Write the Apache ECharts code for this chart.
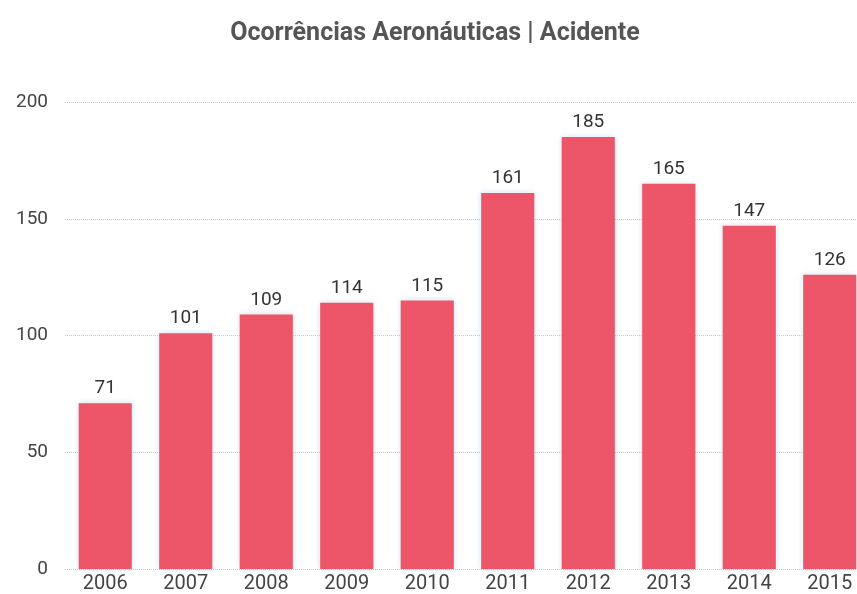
<!DOCTYPE html>
<html>
<head>
<meta charset="utf-8">
<script src="https://cdn.jsdelivr.net/npm/echarts@6/dist/echarts.min.js"></script>
<style>
  html, body { margin: 0; padding: 0; background: #fff; overflow: hidden; width: 857px; height: 594px; }
  /* the drawing surface is a little wider than the page, so the last bar is clipped */
  #chart { width: 870px; height: 594px; }
</style>
</head>
<body>
<div id="chart"></div>
<script>
// Accidents per year
const years = ['2006', '2007', '2008', '2009', '2010', '2011', '2012', '2013', '2014', '2015'];
const accidents = [71, 101, 109, 114, 115, 161, 185, 165, 147, 126];
const yTicks = [0, 50, 100, 150, 200];

const chart = echarts.init(document.getElementById('chart'));
chart.setOption({
  animation: false,
  backgroundColor: '#ffffff',
  title: {
    text: 'Ocorrências Aeronáuticas | Acidente',
    left: 'center',
    top: 16,
    textStyle: { fontFamily: 'Roboto', fontSize: 25, fontWeight: 'bold', color: '#555' }
  },
  grid: { left: 65, right: 0, top: 102, bottom: 25, containLabel: false },
  xAxis: {
    type: 'category',
    data: years,
    axisLine: { show: false },
    axisTick: { show: false },
    axisLabel: { fontFamily: 'Roboto', fontSize: 20, color: '#444', margin: 5 }
  },
  yAxis: {
    type: 'value',
    min: yTicks[0],
    max: yTicks[yTicks.length - 1],
    interval: 50,
    axisLine: { show: false },
    axisTick: { show: false },
    axisLabel: { fontFamily: 'Roboto', fontSize: 19, color: '#444', margin: 17 },
    splitLine: { lineStyle: { type: 'dotted', color: '#c8c8c8', width: 1 } }
  },
  series: [{
    type: 'bar',
    data: accidents,
    barWidth: '66%',
    itemStyle: {
      color: '#ED5569',
      shadowColor: 'rgba(170,200,230,0.55)',
      shadowBlur: 6
    },
    label: {
      show: true,
      position: 'top',
      distance: 5,
      fontFamily: 'Roboto',
      fontSize: 19,
      color: '#333'
    }
  }]
});
</script>
</body>
</html>
